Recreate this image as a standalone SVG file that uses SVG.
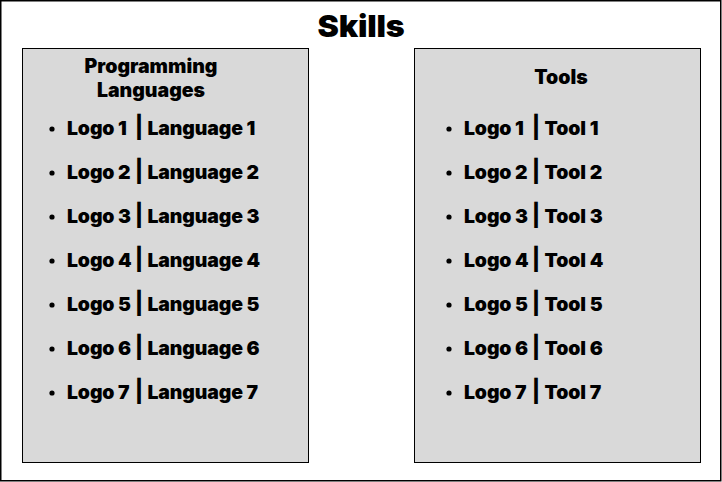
<svg xmlns="http://www.w3.org/2000/svg" width="722" height="482" viewBox="0 0 722 482">
  <style>
    .frame { fill: #ffffff; stroke: #000000; stroke-width: 1.5; }
    .panel { fill: #d9d9d9; stroke: #000000; stroke-width: 1; }
    .bullet { fill: #000000; }
    text { font-family: Inter, Roboto, "Liberation Sans", sans-serif; font-weight: 900; fill: #000000; }
    .title { font-size: 30px; letter-spacing: -0.2px; }
    .head { font-size: 19.5px; }
    .item { font-size: 19.4px; letter-spacing: -0.1px; }
    .pipe { font-weight: 800; font-size: 22px; text-anchor: middle; }
  </style>
  <rect class="frame" x="0.75" y="0.75" width="720" height="480"/>
  <text class="title" transform="translate(361 37) scale(1.07 1)" text-anchor="middle">Skills</text>

  <g id="languages">
    <rect class="panel" x="22.5" y="48.5" width="286" height="414"/>
    <text class="head" x="151" y="73" text-anchor="middle">Programming</text>
    <text class="head" x="151" y="97" text-anchor="middle">Languages</text>
    <g id="language-list">
      <circle class="bullet" cx="52" cy="129" r="2.6"/>
      <text class="item" y="135"><tspan x="67">Logo 1</tspan><tspan class="pipe" x="139">|</tspan><tspan x="147.5">Language 1</tspan></text>
      <circle class="bullet" cx="52" cy="173" r="2.6"/>
      <text class="item" y="179"><tspan x="67">Logo 2</tspan><tspan class="pipe" x="139">|</tspan><tspan x="147.5">Language 2</tspan></text>
      <circle class="bullet" cx="52" cy="217" r="2.6"/>
      <text class="item" y="223"><tspan x="67">Logo 3</tspan><tspan class="pipe" x="139">|</tspan><tspan x="147.5">Language 3</tspan></text>
      <circle class="bullet" cx="52" cy="261" r="2.6"/>
      <text class="item" y="267"><tspan x="67">Logo 4</tspan><tspan class="pipe" x="139">|</tspan><tspan x="147.5">Language 4</tspan></text>
      <circle class="bullet" cx="52" cy="305" r="2.6"/>
      <text class="item" y="311"><tspan x="67">Logo 5</tspan><tspan class="pipe" x="139">|</tspan><tspan x="147.5">Language 5</tspan></text>
      <circle class="bullet" cx="52" cy="349" r="2.6"/>
      <text class="item" y="355"><tspan x="67">Logo 6</tspan><tspan class="pipe" x="139">|</tspan><tspan x="147.5">Language 6</tspan></text>
      <circle class="bullet" cx="52" cy="393" r="2.6"/>
      <text class="item" y="399"><tspan x="67">Logo 7</tspan><tspan class="pipe" x="139">|</tspan><tspan x="147.5">Language 7</tspan></text>
    </g>
  </g>

  <g id="tools">
    <rect class="panel" x="414.5" y="48.5" width="286" height="414"/>
    <text class="head" x="561" y="84" text-anchor="middle">Tools</text>
    <g id="tool-list">
      <circle class="bullet" cx="449" cy="129" r="2.6"/>
      <text class="item" y="135"><tspan x="464">Logo 1</tspan><tspan class="pipe" x="536">|</tspan><tspan x="544.5">Tool 1</tspan></text>
      <circle class="bullet" cx="449" cy="173" r="2.6"/>
      <text class="item" y="179"><tspan x="464">Logo 2</tspan><tspan class="pipe" x="536">|</tspan><tspan x="544.5">Tool 2</tspan></text>
      <circle class="bullet" cx="449" cy="217" r="2.6"/>
      <text class="item" y="223"><tspan x="464">Logo 3</tspan><tspan class="pipe" x="536">|</tspan><tspan x="544.5">Tool 3</tspan></text>
      <circle class="bullet" cx="449" cy="261" r="2.6"/>
      <text class="item" y="267"><tspan x="464">Logo 4</tspan><tspan class="pipe" x="536">|</tspan><tspan x="544.5">Tool 4</tspan></text>
      <circle class="bullet" cx="449" cy="305" r="2.6"/>
      <text class="item" y="311"><tspan x="464">Logo 5</tspan><tspan class="pipe" x="536">|</tspan><tspan x="544.5">Tool 5</tspan></text>
      <circle class="bullet" cx="449" cy="349" r="2.6"/>
      <text class="item" y="355"><tspan x="464">Logo 6</tspan><tspan class="pipe" x="536">|</tspan><tspan x="544.5">Tool 6</tspan></text>
      <circle class="bullet" cx="449" cy="393" r="2.6"/>
      <text class="item" y="399"><tspan x="464">Logo 7</tspan><tspan class="pipe" x="536">|</tspan><tspan x="544.5">Tool 7</tspan></text>
    </g>
  </g>
</svg>
